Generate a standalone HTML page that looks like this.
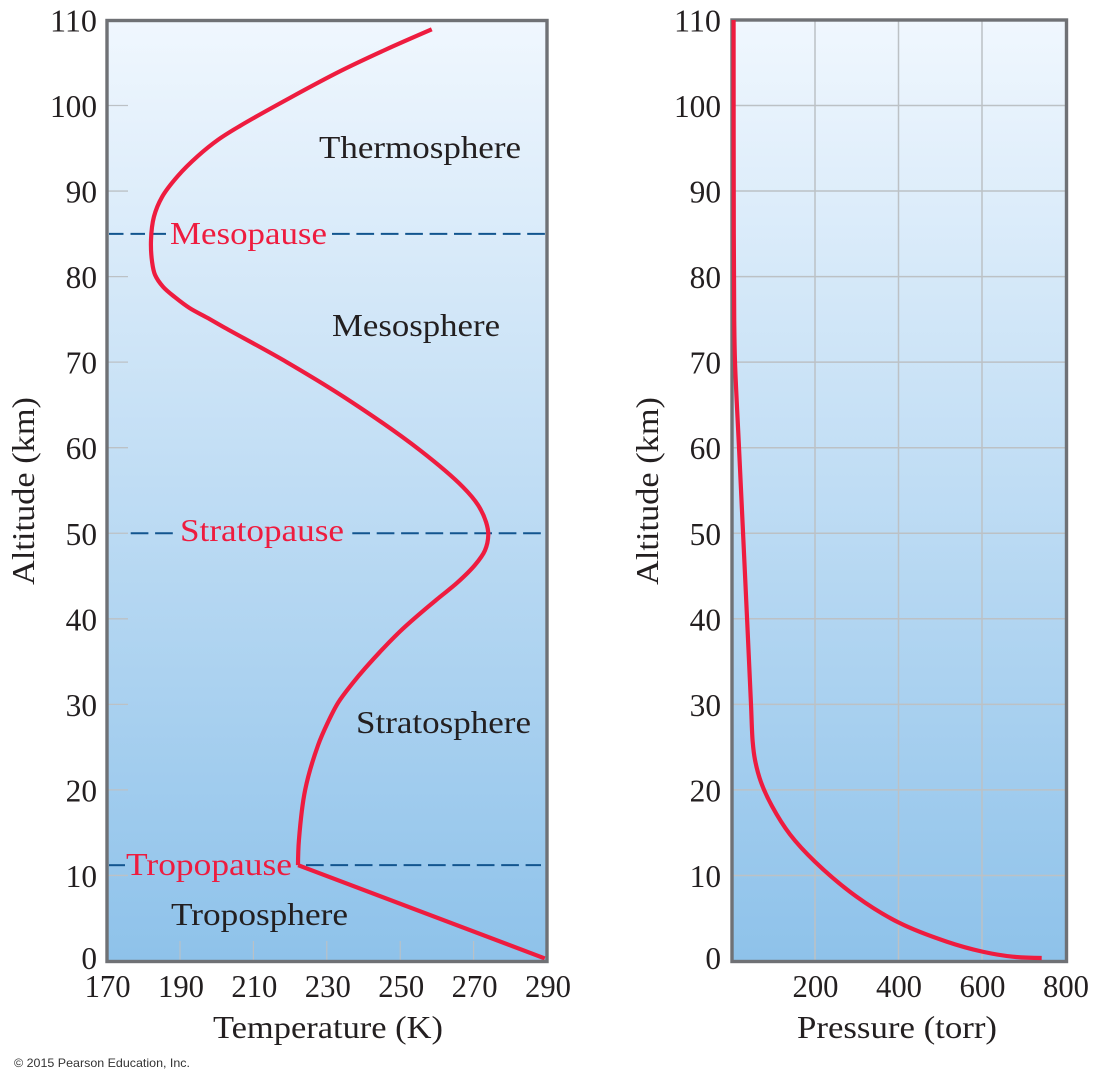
<!DOCTYPE html>
<html lang="en">
<head>
<meta charset="utf-8">
<title>Atmospheric temperature and pressure vs altitude</title>
<style>
html,body{margin:0;padding:0;background:#fff;width:1100px;height:1080px;overflow:hidden}
svg{display:block}
text{font-family:"Liberation Serif",serif;fill:#231f20}
.region{font-size:32px}
.pause{font-size:32px;fill:#ee1c3f}
.axis-title{font-size:32px}
.tick{font-size:32px}
</style>
</head>
<body>
<svg id="chart" xmlns="http://www.w3.org/2000/svg" width="1100" height="1080" viewBox="0 0 1100 1080">
  <defs>
    <linearGradient id="sky" x1="0" y1="0" x2="0" y2="1">
      <stop offset="0" stop-color="#f0f7fe"/>
      <stop offset="1" stop-color="#8ec2ea"/>
    </linearGradient>
  </defs>
  <rect x="107" y="20.5" width="440" height="941" fill="url(#sky)"/>
  <rect x="732" y="20" width="334.5" height="941.5" fill="url(#sky)"/>
  <g id="left-grid"></g>
  <g id="right-grid"></g>
  <g id="pause-lines"></g>
  <g id="left-series"></g>
  <rect x="107" y="20.5" width="440" height="941" fill="none" stroke="#6f7175" stroke-width="3.4"/>
  <rect x="732" y="20" width="334.5" height="941.5" fill="none" stroke="#6f7175" stroke-width="3.4"/>
  <g id="right-series"></g>
  <g id="labels"></g>

  <text class="region" x="319" y="158" textLength="202" lengthAdjust="spacingAndGlyphs">Thermosphere</text>
  <text class="region" x="332" y="336" textLength="168" lengthAdjust="spacingAndGlyphs">Mesosphere</text>
  <text class="region" x="356" y="733" textLength="175" lengthAdjust="spacingAndGlyphs">Stratosphere</text>
  <text class="region" x="171" y="925" textLength="177" lengthAdjust="spacingAndGlyphs">Troposphere</text>
  <text class="pause" x="170" y="244" textLength="157" lengthAdjust="spacingAndGlyphs">Mesopause</text>
  <text class="pause" x="180" y="541" textLength="164" lengthAdjust="spacingAndGlyphs">Stratopause</text>
  <text class="pause" x="126" y="875" textLength="166" lengthAdjust="spacingAndGlyphs">Tropopause</text>

  <text class="axis-title" transform="translate(34,585) rotate(-90)" textLength="188" lengthAdjust="spacingAndGlyphs">Altitude (km)</text>
  <text class="axis-title" transform="translate(658,585) rotate(-90)" textLength="188" lengthAdjust="spacingAndGlyphs">Altitude (km)</text>
  <text class="axis-title" x="213" y="1038" textLength="230" lengthAdjust="spacingAndGlyphs">Temperature (K)</text>
  <text class="axis-title" x="797" y="1038" textLength="200" lengthAdjust="spacingAndGlyphs">Pressure (torr)</text>
  <text x="14" y="1067" textLength="176" lengthAdjust="spacingAndGlyphs" style="font-family:'Liberation Sans',sans-serif;font-size:12px;fill:#333">© 2015 Pearson Education, Inc.</text>
</svg>
<script>
// Chart data
const altitudeTicks = [0, 10, 20, 30, 40, 50, 60, 70, 80, 90, 100, 110];
const temperatureTicks = [170, 190, 210, 230, 250, 270, 290];
const pressureTicks = [200, 400, 600, 800];
const pauseAltitudes = [85, 50, 11.2];

const troposphereAltitudes = [0.3, 11.2];
const troposphereTemperatures = [289.4, 222.2];
const upperAltitudes = [11.2, 14.1, 20, 25.2, 27.9, 30.2, 32.4, 34.2, 38.5, 42.2, 44.2, 46.3, 48, 49.8, 51.3, 53.3, 55.4, 59.7, 65.3, 70, 74, 75.2, 76.3, 77.6, 78.8, 80.2, 81.7, 84.3, 87, 89.3, 91.8, 94.1, 96, 97.6, 100.9, 104, 106.5, 108.9];
const upperTemperatures = [222.15, 222.4, 224.1, 227.6, 230.3, 233.1, 236.9, 240.4, 249.9, 259.8, 265.5, 270.4, 273.1, 274, 273.4, 271.2, 267.1, 255.4, 236.9, 219.1, 202.3, 197.4, 192.7, 188.6, 185.4, 183.2, 182.4, 182.1, 182.9, 185.1, 189.5, 194.9, 200.4, 206.3, 220, 233.6, 245.9, 258.6];

const pressureAltitudes = [0.35, 0.5, 1.08, 2.25, 4.48, 7.5, 11.6, 14.8, 18.1, 20.9, 23.5, 25.6, 30, 40, 50, 60, 70, 75, 85, 110];
const pressureValues = [743, 674, 602, 516, 401, 300, 200, 140, 97, 70.7, 56.3, 50.8, 46.7, 37.3, 27.7, 18, 8.4, 6.5, 5.5, 5];

// Axis functions
const yAlt = a => 961 - a * 8.555;
const xTemp = t => 106.6 + (t - 170) * 3.67;
const xPres = p => 731.5 + p * 0.4175;

const NS = 'http://www.w3.org/2000/svg';
function make(tag, parent, name, attrs) {
  const el = document.createElementNS(NS, tag);
  
  
  for (const k in attrs) el.setAttribute(k, attrs[k]);
  parent.appendChild(el);
  return el;
}
// Centripetal Catmull-Rom spline converted to cubic Bezier segments
function smoothPath(pts) {
  const dist = (a, b) => Math.sqrt(Math.hypot(a[0] - b[0], a[1] - b[1]));
  let d = 'M' + pts[0][0].toFixed(2) + ' ' + pts[0][1].toFixed(2);
  for (let i = 0; i < pts.length - 1; i++) {
    const p0 = pts[Math.max(i - 1, 0)], p1 = pts[i], p2 = pts[i + 1], p3 = pts[Math.min(i + 2, pts.length - 1)];
    const d1 = dist(p0, p1), d2 = dist(p1, p2), d3 = dist(p2, p3);
    const c1 = [0, 1].map(k => d1 === 0 ? p1[k] :
      (d1 * d1 * p2[k] - d2 * d2 * p0[k] + (2 * d1 * d1 + 3 * d1 * d2 + d2 * d2) * p1[k]) / (3 * d1 * (d1 + d2)));
    const c2 = [0, 1].map(k => d3 === 0 ? p2[k] :
      (d3 * d3 * p1[k] - d2 * d2 * p3[k] + (2 * d3 * d3 + 3 * d3 * d2 + d2 * d2) * p2[k]) / (3 * d3 * (d3 + d2)));
    d += 'C' + c1[0].toFixed(2) + ' ' + c1[1].toFixed(2) + ' ' + c2[0].toFixed(2) + ' ' + c2[1].toFixed(2) + ' ' + p2[0].toFixed(2) + ' ' + p2[1].toFixed(2);
  }
  return d;
}
const gridColor = '#bcc1c5';
const leftGrid = document.getElementById('left-grid');
const rightGrid = document.getElementById('right-grid');
const labels = document.getElementById('labels');

altitudeTicks.forEach(a => {
  const y = yAlt(a);
  if (a > 0 && a < 110) {
    make('line', leftGrid, 'temperature-y-tick-' + a, {x1: 108, x2: 128, y1: y, y2: y, stroke: gridColor, 'stroke-width': 1.3});
    make('line', rightGrid, 'pressure-y-gridline-' + a, {x1: 733, x2: 1066, y1: y, y2: y, stroke: gridColor, 'stroke-width': 1.5});
  }
  const base = Math.min(y + 11.5, 969);
  const len = String(a).length * 15.67;
  [[97, 'temperature'], [721, 'pressure']].forEach(([x, plot]) => {
    const t = make('text', labels, plot + '-y-tick-label-' + a, {class: 'tick', x: x - len, y: base, textLength: len, lengthAdjust: 'spacingAndGlyphs'});
    t.textContent = a;
  });
});
temperatureTicks.forEach(v => {
  const x = xTemp(v);
  if (v > 170 && v < 290) {
    make('line', leftGrid, 'temperature-x-tick-' + v, {x1: x, x2: x, y1: 941, y2: 960, stroke: gridColor, 'stroke-width': 1.1});
  }
  const t = make('text', labels, 'temperature-x-tick-label-' + v, {class: 'tick', x: x - 22, y: 997, textLength: 46, lengthAdjust: 'spacingAndGlyphs'});
  t.textContent = v;
});
pressureTicks.forEach(v => {
  const x = xPres(v);
  if (v < 800) {
    make('line', rightGrid, 'pressure-x-gridline-' + v, {x1: x, x2: x, y1: 21, y2: 960, stroke: gridColor, 'stroke-width': 1.5});
  }
  const t = make('text', labels, 'pressure-x-tick-label-' + v, {class: 'tick', x: x - 22.5, y: 997, textLength: 46, lengthAdjust: 'spacingAndGlyphs'});
  t.textContent = v;
});

// Dashed boundaries, interrupted around their labels
const pauseNames = ['mesopause', 'stratopause', 'tropopause'];
const pauseSpans = [[[109, 166, '14.5 7'], [332, 546, '17.7 6.7']], [[130.7, 173, '17.7 6.7'], [352.3, 541, '17.7 6.7']], [[109, 125, 'none'], [306, 541, '17.7 6.7']]];
const pauseGroup = document.getElementById('pause-lines');
pauseAltitudes.forEach((a, i) => {
  pauseSpans[i].forEach((s, j) => {
    make('line', pauseGroup, pauseNames[i] + '-dashed-line-' + (j + 1), {x1: s[0], x2: s[1], y1: yAlt(a), y2: yAlt(a), stroke: '#12558f', 'stroke-width': 2, 'stroke-dasharray': s[2]});
  });
});

// Series
const seriesStyle = {fill: 'none', stroke: '#ee1c3f', 'stroke-width': 4.2, 'stroke-linejoin': 'miter'};
const leftSeries = document.getElementById('left-series');
const rightSeries = document.getElementById('right-series');
const lowerPts = troposphereAltitudes.map((a, i) => [xTemp(troposphereTemperatures[i]), yAlt(a)]);
const upperPts = upperAltitudes.map((a, i) => [xTemp(upperTemperatures[i]), yAlt(a)]);
make('path', leftSeries, 'temperature-curve-upper', Object.assign({d: smoothPath(upperPts)}, seriesStyle));
make('path', leftSeries, 'temperature-curve-troposphere', Object.assign({d: smoothPath(lowerPts)}, seriesStyle));
const presPts = pressureAltitudes.map((a, i) => [xPres(pressureValues[i]), yAlt(a)]);
make('path', rightSeries, 'pressure-curve', Object.assign({d: smoothPath(presPts)}, seriesStyle));
</script>
</body>
</html>
